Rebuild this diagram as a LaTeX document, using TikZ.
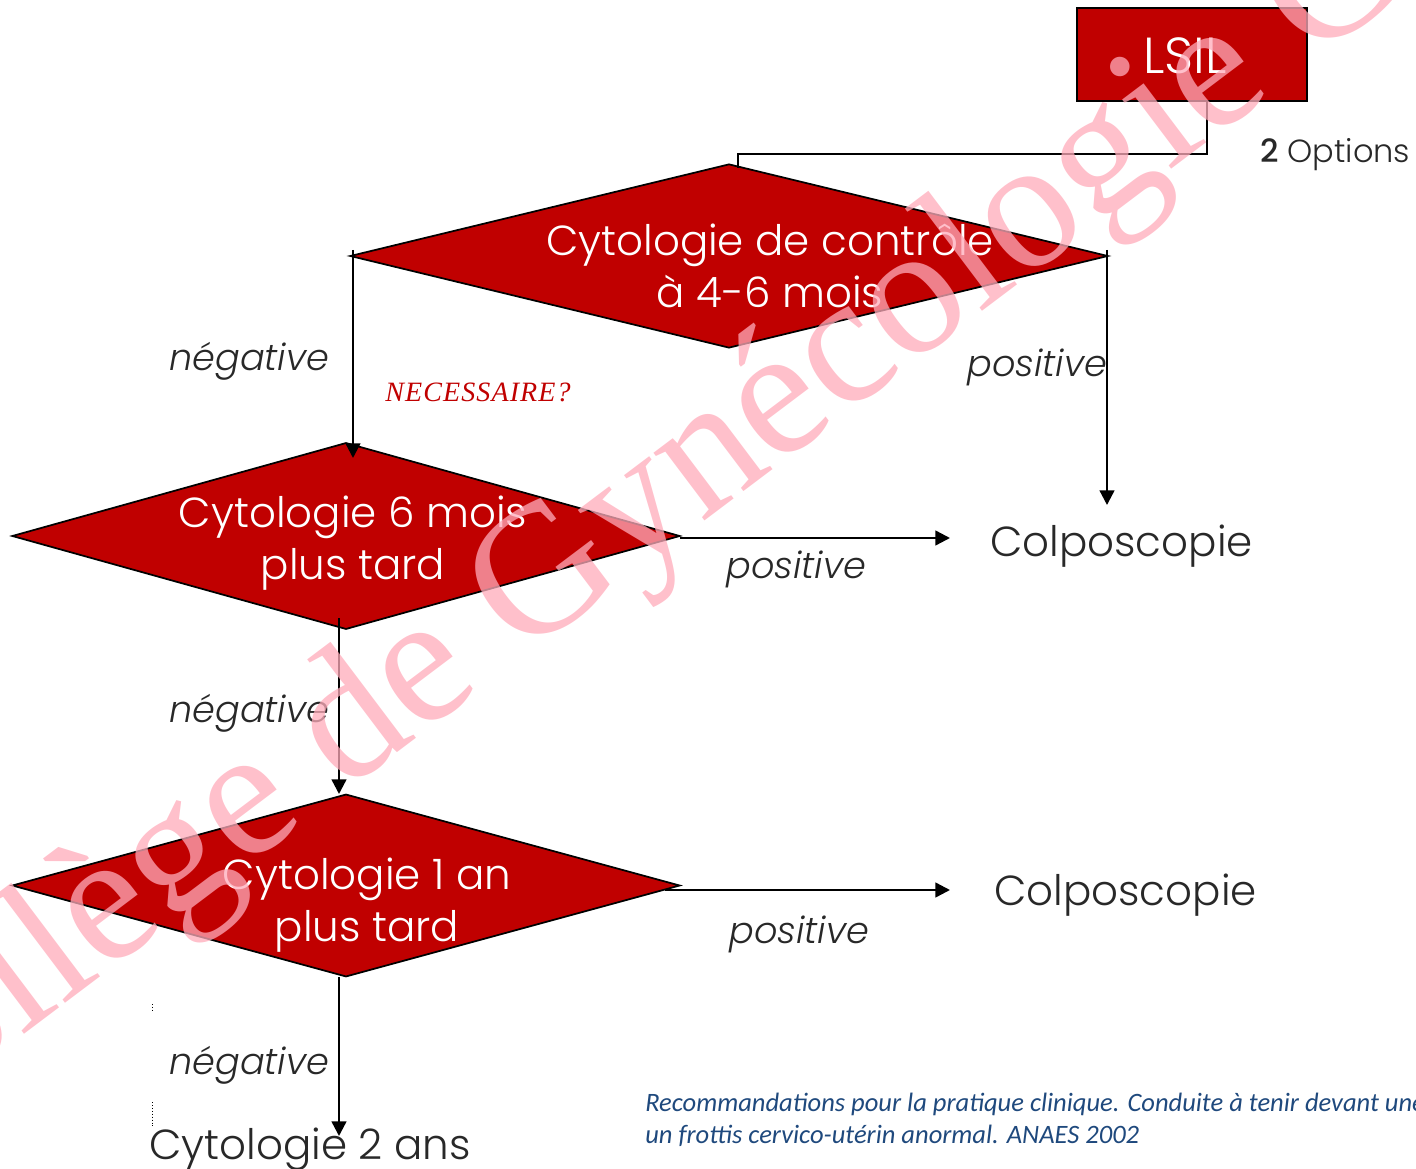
\documentclass[tikz,border=0pt]{standalone}
\usepackage{fontspec}
\setmainfont{Poppins}[UprightFont=* Light,ItalicFont=* Light Italic,BoldFont=* Medium]
\newfontfamily\wmfont{Liberation Serif}
\newfontfamily\noteserif{Liberation Serif}[LetterSpace=4]
\newfontfamily\refont{Carlito}
\usetikzlibrary{arrows.meta,shapes.geometric}
\definecolor{boxred}{RGB}{192,0,0}
\definecolor{wmpink}{RGB}{255,171,186}
\definecolor{refblue}{RGB}{31,73,125}
\definecolor{inkgrey}{RGB}{40,40,40}
\tikzset{
  redbox/.style={draw=black,line width=1.5pt,fill=boxred,inner sep=0pt},
  decision/.style={diamond,draw=black,line width=1.3pt,fill=boxred,inner sep=0pt},
  conn/.style={draw=black,line width=1.5pt},
  arrowconn/.style={draw=black,line width=1.8pt,-{Triangle[length=11pt,width=11pt]}},
  intext/.style={text=white,font=\fontsize{31.5}{39}\selectfont,align=center,inner sep=0pt},
  lab/.style={text=inkgrey,font=\fontsize{27.5}{32}\selectfont\itshape,inner sep=0pt},
  outtext/.style={text=inkgrey,font=\fontsize{31.5}{39}\selectfont,inner sep=0pt},
}
\begin{document}
\begin{tikzpicture}[x=0.75pt,y=-0.75pt]
\useasboundingbox (0,0) rectangle (1416,1169);
\clip (0,0) rectangle (1416,1169);
\node[redbox,minimum width=172.5pt,minimum height=69.75pt] (lsil) at (1192,54.5) {};
\node[decision,minimum width=568.5pt,minimum height=138pt,aspect=4.12] (d1) at (729,256) {};
\node[decision,minimum width=501pt,minimum height=140pt,aspect=3.58] (d2) at (346,536) {};
\node[decision,minimum width=501pt,minimum height=137pt,aspect=3.65] (d3) at (346,885.5) {};
\node[intext,font=\fontsize{38}{44}\selectfont] (lsiltxt) at (1185,56) {LSIL};
\node[intext] (t1) at (770,266) {Cytologie de contrôle\\à 4-6 mois};
\node[intext] (t2) at (353,543) {Cytologie 6 mois\\plus tard};
\node[intext] (t3) at (367,905) {Cytologie 1 an\\plus tard};
\node[outtext,anchor=west] (colpo1) at (990,546) {Colposcopie};
\node[outtext,anchor=west] (colpo2) at (994,895) {Colposcopie};
\node[outtext,anchor=west] (cyt2) at (149,1149) {Cytologie 2 ans};
\node[lab,anchor=west] (n1) at (169,361) {négative};
\node[lab,anchor=west] (n2) at (169,713) {négative};
\node[lab,anchor=west] (n3) at (169,1065) {négative};
\node[lab,anchor=west] (p1) at (967,367) {positive};
\node[lab,anchor=west] (p2) at (726,569) {positive};
\node[lab,anchor=west] (p3) at (729,934) {positive};
\node[anchor=west,inner sep=0pt,text=inkgrey,font=\fontsize{24}{28}\selectfont] (opt) at (1260,155) {\textbf{2} Options};
\node[anchor=west,inner sep=0pt,text=boxred,font=\noteserif\fontsize{21}{26}\selectfont\itshape] (nec) at (385,392) {NECESSAIRE?};
\node[anchor=north west,inner sep=0pt,text=refblue,align=left,font=\refont\fontsize{19.9}{24}\selectfont\itshape] (ref) at (645,1093) {Recommandations pour la pratique clinique. Conduite à tenir devant une\\un frottis cervico-utérin anormal. ANAES 2002};
% connectors
\coordinate (a1) at (1207,154);
\coordinate (a2) at (738,154);
\coordinate (a3) at (738,168);
\draw[conn] (lsil.south -| a1) -- (a1) -- (a2) -- (a3);
\coordinate (b1) at (353,250);
\coordinate (b2) at (353,458);
\draw[arrowconn] (b1) -- (b2);
\coordinate (c1) at (1107,250);
\coordinate (c2) at (1107,505);
\draw[arrowconn] (c1) -- (c2);
\coordinate (e1) at (680,538);
\coordinate (e2) at (950,538);
\draw[arrowconn] (e1) -- (e2);
\coordinate (f1) at (339,618);
\coordinate (f2) at (339,794);
\draw[arrowconn] (f1) -- (f2);
\coordinate (g1) at (665,890);
\coordinate (g2) at (950,890);
\draw[arrowconn] (g1) -- (g2);
\coordinate (h1) at (339,977);
\coordinate (h2) at (339,1136);
\draw[arrowconn] (h1) -- (h2);
% tiny dotted marks
\draw[black,line width=0.6pt,dash pattern=on 1pt off 1.2pt] (152,1004) -- (152,1010);
\draw[black,line width=0.6pt,dash pattern=on 1pt off 1.2pt] (152,1102) -- (152,1126);
% watermark on top
\node[rotate=37,anchor=base west,inner sep=0pt,text=wmpink,opacity=.75,font=\wmfont\fontsize{138.5}{138.5}\selectfont] (wm) at (-151,1166) {Collège de Gynécologie C};
\end{tikzpicture}
\end{document}
